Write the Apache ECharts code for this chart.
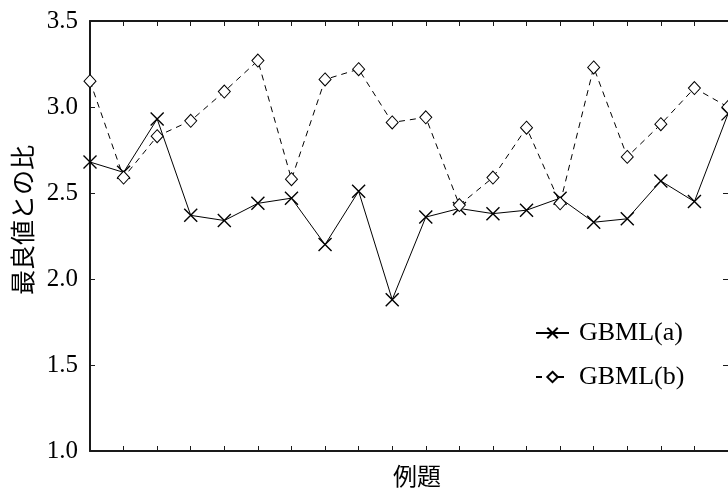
<!DOCTYPE html>
<html>
<head>
<meta charset="utf-8">
<script src="https://cdn.jsdelivr.net/npm/echarts@6/dist/echarts.min.js"></script>
<style>
  html, body { margin: 0; padding: 0; background: #fff; }
  #chart { width: 728px; height: 496px; }
</style>
</head>
<body>
<div id="chart"></div>
<script>
// Problem instances (例題) 1..20
const categories = ['1','2','3','4','5','6','7','8','9','10','11','12','13','14','15','16','17','18','19','20'];
// Ratio to the best known value for each method
const gbmlA = [2.68, 2.62, 2.93, 2.37, 2.34, 2.44, 2.47, 2.20, 2.51, 1.88, 2.36, 2.41, 2.38, 2.40, 2.47, 2.33, 2.35, 2.57, 2.45, 2.96];
const gbmlB = [3.15, 2.59, 2.83, 2.92, 3.09, 3.27, 2.58, 3.16, 3.22, 2.91, 2.94, 2.43, 2.59, 2.88, 2.44, 3.23, 2.71, 2.90, 3.11, 3.00];
const yTicks = { min: 1.0, max: 3.5, step: 0.5 };
const seriesNames = ['GBML(a)', 'GBML(b)'];

const crossPath = 'path://M0,0L10,10M10,0L0,10';
const serif = 'Liberation Serif, Times New Roman, serif';
const cjk = 'Noto Sans CJK JP, sans-serif';
const axisColor = '#1a1a1a';

const chart = echarts.init(document.getElementById('chart'), null, { renderer: 'canvas' });

chart.setOption({
  animation: false,
  backgroundColor: '#fff',
  grid: { left: 90, top: 21, width: 640, height: 430, containLabel: false },
  legend: {
    orient: 'vertical',
    left: 535,
    top: 319,
    padding: 0,
    itemWidth: 33,
    itemHeight: 13,
    itemGap: 16,
    textStyle: { fontFamily: serif, fontSize: 26, color: '#000', lineHeight: 28, padding: [0, 0, 0, 5] },
    data: seriesNames
  },
  xAxis: [
    {
      type: 'category', data: categories, boundaryGap: false, position: 'bottom',
      axisLine: { lineStyle: { color: axisColor, width: 2 } },
      axisTick: { inside: true, length: 5, lineStyle: { color: axisColor, width: 1 } },
      axisLabel: { show: false },
      splitLine: { show: false }
    },
    {
      type: 'category', data: categories, boundaryGap: false, position: 'top',
      axisLine: { lineStyle: { color: axisColor, width: 2 } },
      axisTick: { inside: true, length: 5, lineStyle: { color: axisColor, width: 1 } },
      axisLabel: { show: false },
      splitLine: { show: false }
    }
  ],
  yAxis: [
    {
      type: 'value', min: yTicks.min, max: yTicks.max, interval: yTicks.step, position: 'left',
      axisLine: { show: true, lineStyle: { color: axisColor, width: 2 } },
      axisTick: { show: true, inside: true, length: 5, lineStyle: { color: axisColor, width: 1 } },
      axisLabel: { fontFamily: serif, fontSize: 25, color: '#000', margin: 12, formatter: v => v.toFixed(1) },
      splitLine: { show: false }
    },
    {
      type: 'value', min: yTicks.min, max: yTicks.max, interval: yTicks.step, position: 'right',
      axisLine: { show: false },
      axisTick: { show: true, inside: true, length: 5, lineStyle: { color: axisColor, width: 1 } },
      axisLabel: { show: false },
      splitLine: { show: false }
    }
  ],
  series: [
    {
      name: seriesNames[0], type: 'line', data: gbmlA,
      symbol: crossPath, symbolSize: 13, showAllSymbol: true,
      lineStyle: { color: '#000', width: 1 },
      itemStyle: { color: '#000', borderColor: '#000', borderWidth: 1.4 },
      emphasis: { disabled: true }
    },
    {
      name: seriesNames[1], type: 'line', data: gbmlB,
      symbol: 'diamond', symbolSize: [12, 13], showAllSymbol: true,
      lineStyle: { color: '#000', width: 1, type: [6, 5] },
      itemStyle: { color: '#fff', borderColor: '#000', borderWidth: 1 },
      emphasis: { disabled: true }
    }
  ],
  graphic: [
    {
      type: 'text', x: 22, y: 220, rotation: Math.PI / 2,
      style: { text: '最良値との比', font: '25px ' + cjk, fill: '#000', align: 'center', verticalAlign: 'middle' }
    },
    {
      type: 'text', x: 417, y: 476,
      style: { text: '例題', font: '24px ' + cjk, fill: '#000', align: 'center', verticalAlign: 'middle' }
    }
  ]
});
</script>
</body>
</html>
